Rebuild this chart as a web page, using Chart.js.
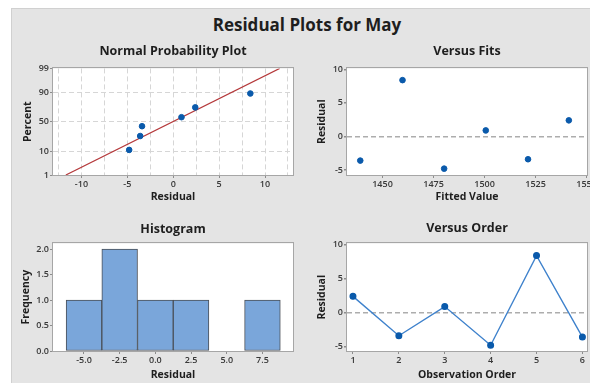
<!DOCTYPE html>
<html>
<head>
<meta charset="utf-8">
<script src="https://cdn.jsdelivr.net/npm/chart.js@4/dist/chart.umd.min.js"></script>
<style>
  html, body { margin: 0; padding: 0; width: 590px; height: 383px; overflow: hidden; background: #ffffff; }
  #panel { position: absolute; left: 11px; top: 8px; width: 620px; height: 400px; background: #e4e4e4;
           border-top: 1px solid #d0d0d0; border-left: 1px solid #d0d0d0; }
  #mainTitle { position: absolute; left: 11px; width: 592px; top: 13px; text-align: center;
               font: bold 17px "Open Sans", sans-serif; color: #1e1e1e; }
  canvas { position: absolute; }
</style>
</head>
<body>
<div id="panel"></div>
<div id="mainTitle">Residual Plots for May</div>
<canvas id="cNorm"  width="289" height="174" style="left:11px;top:36px"></canvas>
<canvas id="cFits"  width="300" height="174" style="left:300px;top:36px"></canvas>
<canvas id="cHist"  width="289" height="171" style="left:11px;top:212px"></canvas>
<canvas id="cOrder" width="300" height="171" style="left:300px;top:212px"></canvas>
<script>
// Residuals in observation order, and the fitted values they belong to
const observationOrder = [1, 2, 3, 4, 5, 6];
const residuals = [2.4, -3.4, 0.9, -4.8, 8.4, -3.6];
const fittedValues = [1541.3, 1521.3, 1500.6, 1480.2, 1459.8, 1439.1];

// Normal probability plot: plotting positions (percent) of the sorted residuals
const probPercents = [10.9, 26.6, 42.2, 57.8, 73.4, 89.1];
const fitLineResidual = [-11.7, 11.6];
const fitLinePercent = [1, 99];
const percentTicks = [1, 10, 50, 90, 99];
const normResidualTicks = [-12.5, -10, -7.5, -5, -2.5, 0, 2.5, 5, 7.5, 10, 12.5];

// Histogram of residuals
const histBinCenters = [-5, -2.5, 0, 2.5, 5, 7.5];
const histCounts = [1, 2, 1, 1, 0, 1];
const histXTicks = [-5, -2.5, 0, 2.5, 5, 7.5];
const histYTicks = [0, 0.5, 1, 1.5, 2];

// Versus fits / versus order axes
const fitsXTicks = [1450, 1475, 1500, 1525, 1550];
const residualTicks = [-5, 0, 5, 10];

// Inverse standard normal CDF (Acklam's rational approximation)
function normInv(p) {
  const a = [-3.969683028665376e+01, 2.209460984245205e+02, -2.759285104469687e+02, 1.383577518672690e+02, -3.066479806614716e+01, 2.506628277459239e+00];
  const b = [-5.447609879822406e+01, 1.615858368580409e+02, -1.556989798598866e+02, 6.680131188771972e+01, -1.328068155288572e+01];
  const c = [-7.784894002430293e-03, -3.223964580411365e-01, -2.400758277161838e+00, -2.549732539343734e+00, 4.374664141464968e+00, 2.938163982698783e+00];
  const d = [7.784695709041462e-03, 3.224671290700398e-01, 2.445134137142996e+00, 3.754408661907416e+00];
  const pl = 0.02425;
  let q, r;
  if (p < pl) {
    q = Math.sqrt(-2 * Math.log(p));
    return (((((c[0]*q+c[1])*q+c[2])*q+c[3])*q+c[4])*q+c[5]) / ((((d[0]*q+d[1])*q+d[2])*q+d[3])*q+1);
  }
  if (p > 1 - pl) {
    q = Math.sqrt(-2 * Math.log(1 - p));
    return -(((((c[0]*q+c[1])*q+c[2])*q+c[3])*q+c[4])*q+c[5]) / ((((d[0]*q+d[1])*q+d[2])*q+d[3])*q+1);
  }
  q = p - 0.5; r = q * q;
  return (((((a[0]*r+a[1])*r+a[2])*r+a[3])*r+a[4])*r+a[5])*q / (((((b[0]*r+b[1])*r+b[2])*r+b[3])*r+b[4])*r+1);
}

const FONT = '"Open Sans", sans-serif';
const tickFont = { family: FONT, size: 9, weight: '600' };
const axisTitleFont = { family: FONT, size: 10.5, weight: 'bold' };
const subTitleFont = { family: FONT, size: 12.5, weight: 'bold' };
const TICK_COLOR = '#383838';
const TICK_MARK = '#8c8c8c';
const POINT_BLUE = '#0a5aab';
const POINT_R = 2.8;

// White plot area with a thin grey frame
const plotFrame = {
  id: 'plotFrame',
  beforeDraw(chart) {
    const { ctx, chartArea: a } = chart;
    ctx.save();
    ctx.fillStyle = '#ffffff';
    ctx.fillRect(a.left, a.top, a.right - a.left, a.bottom - a.top);
    ctx.restore();
  },
  afterDraw(chart) {
    const { ctx, chartArea: a } = chart;
    ctx.save();
    ctx.strokeStyle = '#a6a6a6';
    ctx.lineWidth = 1;
    ctx.strokeRect(Math.round(a.left) - 0.5, Math.round(a.top) - 0.5,
                   Math.round(a.right - a.left) + 1, Math.round(a.bottom - a.top) + 1);
    ctx.restore();
  }
};

const fixedTicks = vals => scale => { scale.ticks = vals.map(v => ({ value: v })); };

function subTitle(text, top, bottom) {
  return { display: true, text, fullSize: false, font: subTitleFont, color: '#1e1e1e',
           padding: { top, bottom } };
}
function axisTitle(text, pad) {
  return { display: true, text, font: axisTitleFont, color: '#1e1e1e', padding: pad };
}
function baseOptions(padRight, titleCfg, scales) {
  return {
    responsive: false, animation: false, devicePixelRatio: 1,
    layout: { padding: { left: 0, right: padRight, top: 0, bottom: 0 } },
    plugins: { legend: { display: false }, tooltip: { enabled: false }, title: titleCfg },
    scales
  };
}

// ---- Normal Probability Plot ----
const sortedResiduals = residuals.slice().sort((p, q) => p - q);
const zMin = normInv(percentTicks[0] / 100), zMax = normInv(percentTicks[percentTicks.length - 1] / 100);
new Chart(document.getElementById('cNorm'), {
  type: 'scatter',
  data: {
    datasets: [
      { data: sortedResiduals.map((x, i) => ({ x, y: normInv(probPercents[i] / 100) })),
        backgroundColor: POINT_BLUE, borderColor: POINT_BLUE, pointRadius: POINT_R },
      { type: 'line', data: fitLineResidual.map((x, i) => ({ x, y: normInv(fitLinePercent[i] / 100) })),
        borderColor: '#b5393b', borderWidth: 1.2, pointRadius: 0, fill: false }
    ]
  },
  options: baseOptions(7, subTitle('Normal Probability Plot', 8.2, 9.2), {
    x: {
      type: 'linear', min: -13.1, max: 13.05,
      afterBuildTicks: fixedTicks(normResidualTicks),
      afterFit: s => { s.height = 35; },
      ticks: { font: tickFont, color: TICK_COLOR, padding: 1, maxRotation: 0, autoSkip: false,
               callback: v => (v % 5 === 0 ? String(v) : '') },
      grid: { color: '#d6d6d6', lineWidth: 1, tickLength: 3,
              tickColor: c => (c.tick && c.tick.value % 5 === 0 ? TICK_MARK : 'rgba(0,0,0,0)') },
      border: { display: false, dash: [5, 3] },
      title: axisTitle('Residual', { top: 0, bottom: 7 })
    },
    y: {
      type: 'linear', min: zMin, max: zMax,
      afterBuildTicks: fixedTicks(percentTicks.map(p => normInv(p / 100))),
      afterFit: s => { s.width = 42; },
      ticks: { font: tickFont, color: TICK_COLOR, padding: 1, autoSkip: false,
               callback: (v, i) => String(percentTicks[i]) },
      grid: { color: c => (c.index > 0 && c.index < percentTicks.length - 1 ? '#d6d6d6' : 'rgba(0,0,0,0)'),
              lineWidth: 1, tickLength: 3, tickColor: TICK_MARK },
      border: { display: false, dash: [5, 3] },
      title: axisTitle('Percent', { top: 10.7, bottom: 0 })
    }
  }),
  plugins: [plotFrame]
});

// ---- Versus Fits ----
new Chart(document.getElementById('cFits'), {
  type: 'scatter',
  data: {
    datasets: [
      { data: fittedValues.map((x, i) => ({ x, y: residuals[i] })),
        backgroundColor: POINT_BLUE, borderColor: POINT_BLUE, pointRadius: POINT_R }
    ]
  },
  options: baseOptions(13, subTitle('Versus Fits', 8.2, 9.2), {
    x: {
      type: 'linear', min: 1432.6, max: 1550.2,
      afterBuildTicks: fixedTicks(fitsXTicks),
      afterFit: s => { s.height = 35; },
      ticks: { font: tickFont, color: TICK_COLOR, padding: 1, maxRotation: 0, autoSkip: false,
               callback: v => String(v) },
      grid: { drawOnChartArea: false, tickLength: 3, tickColor: TICK_MARK },
      border: { display: false },
      title: axisTitle('Fitted Value', { top: 0, bottom: 6.4 })
    },
    y: {
      type: 'linear', min: -5.75, max: 10.15,
      afterBuildTicks: fixedTicks(residualTicks),
      afterFit: s => { s.width = 47; },
      ticks: { font: tickFont, color: TICK_COLOR, padding: 1, autoSkip: false },
      grid: { color: c => (c.tick && c.tick.value === 0 ? '#adadad' : 'rgba(0,0,0,0)'),
              lineWidth: 1.5, tickLength: 3, tickColor: TICK_MARK },
      border: { display: false, dash: [5, 3] },
      title: axisTitle('Residual', { top: 15.4, bottom: 0 })
    }
  }),
  plugins: [plotFrame]
});

// ---- Histogram ----
new Chart(document.getElementById('cHist'), {
  type: 'bar',
  data: {
    datasets: [
      { data: histBinCenters.map((x, i) => ({ x, y: histCounts[i] })),
        backgroundColor: '#7aa6da', borderColor: '#4a4f57', borderWidth: 1,
        borderSkipped: false, barPercentage: 1, categoryPercentage: 1 }
    ]
  },
  options: baseOptions(7, subTitle('Histogram', 10.4, 6.0), {
    x: {
      type: 'linear', min: -7.17, max: 9.64, offset: false,
      afterBuildTicks: fixedTicks(histXTicks),
      afterFit: s => { s.height = 32; },
      ticks: { font: tickFont, color: TICK_COLOR, padding: 1, maxRotation: 0, autoSkip: false,
               callback: v => Number(v).toFixed(1) },
      grid: { drawOnChartArea: false, offset: false, tickLength: 3, tickColor: TICK_MARK },
      border: { display: false },
      title: axisTitle('Residual', { top: 0, bottom: 2.1 })
    },
    y: {
      type: 'linear', min: 0, max: 2.11,
      afterBuildTicks: fixedTicks(histYTicks),
      afterFit: s => { s.width = 42; },
      ticks: { font: tickFont, color: TICK_COLOR, padding: 1, autoSkip: false,
               callback: v => Number(v).toFixed(1) },
      grid: { drawOnChartArea: false, tickLength: 3, tickColor: TICK_MARK },
      border: { display: false },
      title: axisTitle('Frequency', { top: 8.4, bottom: 0 })
    }
  }),
  plugins: [plotFrame]
});

// ---- Versus Order ----
new Chart(document.getElementById('cOrder'), {
  type: 'line',
  data: {
    datasets: [
      { data: observationOrder.map((x, i) => ({ x, y: residuals[i] })),
        borderColor: '#3f82cc', borderWidth: 1.4, fill: false, tension: 0,
        pointBackgroundColor: POINT_BLUE, pointBorderColor: POINT_BLUE, pointRadius: POINT_R }
    ]
  },
  options: baseOptions(13, subTitle('Versus Order', 9.4, 7.0), {
    x: {
      type: 'linear', min: 0.87, max: 6.1,
      afterBuildTicks: fixedTicks(observationOrder),
      afterFit: s => { s.height = 32; },
      ticks: { font: tickFont, color: TICK_COLOR, padding: 1, maxRotation: 0, autoSkip: false },
      grid: { drawOnChartArea: false, tickLength: 3, tickColor: TICK_MARK },
      border: { display: false },
      title: axisTitle('Observation Order', { top: 0, bottom: 2.1 })
    },
    y: {
      type: 'linear', min: -5.65, max: 10.2,
      afterBuildTicks: fixedTicks(residualTicks),
      afterFit: s => { s.width = 47; },
      ticks: { font: tickFont, color: TICK_COLOR, padding: 1, autoSkip: false },
      grid: { color: c => (c.tick && c.tick.value === 0 ? '#adadad' : 'rgba(0,0,0,0)'),
              lineWidth: 1.5, tickLength: 3, tickColor: TICK_MARK },
      border: { display: false, dash: [5, 3] },
      title: axisTitle('Residual', { top: 15.4, bottom: 0 })
    }
  }),
  plugins: [plotFrame]
});
</script>
</body>
</html>
